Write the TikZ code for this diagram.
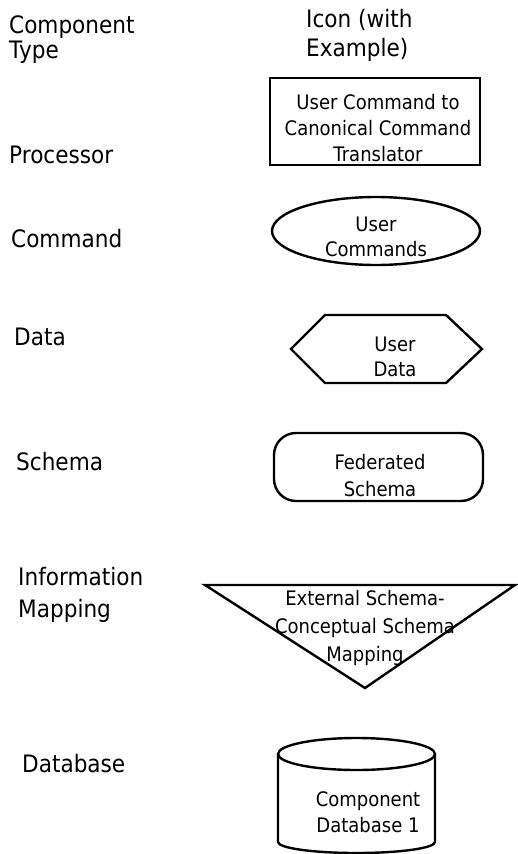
\documentclass[tikz,border=0pt]{standalone}
\usepackage{fontspec}
\usepackage{tikz}
\usetikzlibrary{shapes.geometric, positioning}
\newfontfamily\typefont[FakeStretch=0.9]{DejaVu Sans}
\newfontfamily\iconfont[FakeStretch=0.9]{DejaVu Sans}

\begin{document}
\begin{tikzpicture}[x=1pt, y=-1pt, line width=2.4pt,
    typelabel/.style={anchor=base west, inner sep=0pt, font=\typefont\fontsize{24}{28}\selectfont},
    icontext/.style={align=center, inner sep=0pt, font=\iconfont\fontsize{20}{26}\selectfont},
    iconbox/.style={draw, inner sep=0pt}]
    \useasboundingbox (0,0) rectangle (517,854);

    % Column headings
    \node[typelabel] (head1a) at (8,33) {Component};
    \node[typelabel] (head1b) at (8,58) {Type};
    \node[typelabel] (head2a) at (305,27) {Icon (with};
    \node[typelabel] (head2b) at (305,56) {Example)};

    % Component types
    \node[typelabel] (proclab) at (8,163) {Processor};
    \node[typelabel] (cmdlab) at (10,247) {Command};
    \node[typelabel] (datalab) at (13,345) {Data};
    \node[typelabel] (schemalab) at (15,470) {Schema};
    \node[typelabel] (maplab1) at (17,585) {Information};
    \node[typelabel] (maplab2) at (17,617) {Mapping};
    \node[typelabel] (dblab) at (21,772) {Database};

    % Processor icon
    \node[iconbox, minimum width=210, minimum height=87] (proc) at (375,121.5) {};
    \node[icontext] (proctext) at (378,128.5) {User Command to\\Canonical Command\\Translator};

    % Command icon
    \node[iconbox, ellipse, minimum width=208, minimum height=68] (cmd) at (376,231) {};
    \node[icontext, font=\iconfont\fontsize{20}{25}\selectfont] (cmdtext) at (376,237) {User\\Commands};

    % Data icon
    \draw (291,349) -- (325,315) -- (446,315) -- (482,349) -- (446,383) -- (325,383) -- cycle;
    \node[icontext, font=\iconfont\fontsize{20}{25}\selectfont] (datatext) at (395,357) {User\\Data};

    % Schema icon
    \node[iconbox, rounded corners=22, minimum width=209, minimum height=68] (schema) at (378.5,467) {};
    \node[icontext, font=\iconfont\fontsize{20}{27}\selectfont] (schematext) at (380,476) {Federated\\Schema};

    % Information mapping icon
    \draw (205,585) -- (515,585) -- (365,688) -- cycle;
    \node[icontext, font=\iconfont\fontsize{20}{28}\selectfont] (maptext) at (365,628) {External Schema-\\Conceptual Schema\\Mapping};

    % Database icon
    \draw (356.5,754) ellipse [x radius=78.5, y radius=16];
    \draw (278,754) -- (278,842) arc[start angle=180, end angle=0, x radius=78.5, y radius=11] -- (435,754);
    \node[icontext] (dbtext) at (368,812) {Component\\Database 1};
\end{tikzpicture}
\end{document}
